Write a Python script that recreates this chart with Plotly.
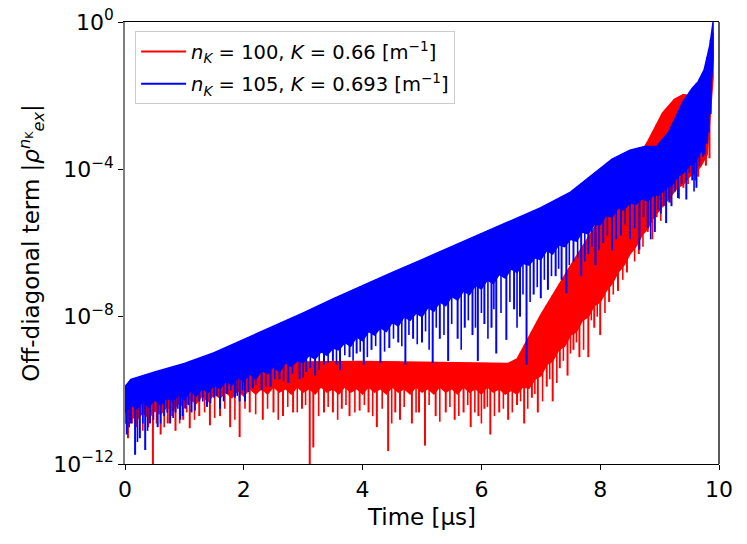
import numpy as np
import plotly.graph_objects as go

# ---------------- data (log10 of |rho|) ----------------
# n_K = 100 (red): upper envelope
red_top_t = [0.0, 0.1, 0.5, 1.0, 1.5, 2.0, 2.5, 3.0, 4.0, 5.0, 6.0, 6.45, 6.6, 7.0, 7.5, 7.8, 8.2, 8.5,
             8.8, 9.05, 9.25, 9.4, 9.5, 9.6, 9.7, 9.8, 9.85, 9.9]
red_top = [-10.5, -10.3, -10.0, -9.7, -9.4, -9.3, -9.25, -9.23, -9.22, -9.24, -9.25, -9.27, -9.15, -7.95,
           -6.62, -5.85, -4.85, -4.05, -3.25, -2.47, -2.1, -1.97, -2.0, -2.1, -1.7, -1.2, -0.8, -0.3]
# red: lower edge of the dense band (every 0.1 us)
red_low_t = [round(0.1 * i, 1) for i in range(100)]
red_low = [-10.9, -10.7, -10.8, -10.6, -10.75, -10.55, -10.65, -10.45, -10.55, -10.35,
           -10.45, -10.25, -10.35, -10.15, -10.3, -10.1, -10.2, -10.05, -10.2, -10.0,
           -10.15, -9.95, -10.1, -9.95, -10.1, -9.9, -10.05, -9.95, -10.1, -9.9,
           -10.05, -9.95, -10.1, -9.9, -10.05, -9.95, -10.1, -9.9, -10.05, -9.95,
           -10.1, -9.9, -10.05, -9.95, -10.1, -9.9, -10.05, -9.95, -10.1, -9.9,
           -10.05, -9.95, -10.1, -9.9, -10.05, -9.95, -10.1, -9.9, -10.05, -9.95,
           -10.1, -9.9, -10.05, -9.95, -10.1, -10.0, -10.1, -9.9, -9.95, -9.7,
           -9.6, -9.3, -9.2, -8.9, -8.8, -8.5, -8.4, -8.1, -8.0, -7.7,
           -7.6, -7.3, -7.1, -6.8, -6.6, -6.3, -6.1, -5.8, -5.6, -5.3,
           -5.1, -4.9, -4.7, -4.5, -4.4, -4.2, -4.1, -3.9, -3.6, -1.5]
# red: deep dips
red_spike_t = [0.05, 0.2, 0.39, 0.47, 0.6, 0.72, 0.85, 0.98, 1.09, 1.25, 1.43, 1.6, 1.77, 1.93, 2.1, 2.32,
               2.5, 2.66, 2.83, 2.98, 3.11, 3.17, 3.35, 3.5, 3.65, 3.78, 3.95, 4.1, 4.24, 4.43, 4.55, 4.63,
               4.83, 4.95, 5.05, 5.23, 5.4, 5.55, 5.7, 5.82, 5.95, 6.05, 6.15, 6.3, 6.45, 6.6, 6.72, 6.85,
               6.95, 7.1, 7.2, 7.32, 7.45, 7.55, 7.65, 7.8, 7.9, 8.0, 8.15, 8.3, 8.45, 8.5, 8.65, 8.8, 8.95,
               9.1, 9.25, 9.4, 9.55, 9.65, 9.72, 9.78, 9.84]
red_spike_lo = [-11.3, -11.0, -11.0, -12.1, -11.2, -10.9, -11.1, -10.8, -11.03, -10.7, -10.95, -10.7, -11.0,
                -11.27, -10.6, -10.8, -10.6, -10.7, -10.6, -10.5, -12.1, -11.55, -10.6, -10.6, -10.5, -10.7,
                -10.55, -10.6, -11.0, -11.65, -10.6, -10.8, -10.9, -10.6, -11.5, -10.7, -10.6, -10.8, -10.6,
                -11.0, -10.7, -10.5, -11.2, -10.6, -10.8, -10.4, -10.9, -10.2, -10.6, -9.9, -10.3, -9.4, -9.6,
                -8.9, -9.1, -9.1, -8.3, -8.5, -7.6, -7.3, -6.8, -6.2, -6.3, -5.7, -5.3, -5.0, -4.6, -4.5,
                -4.0, -4.2, -3.66, -3.9, -3.7]
# red: shallower dips
red_dip_t = [0.12, 0.3, 0.53, 0.66, 0.79, 0.92, 1.04, 1.17, 1.34, 1.51, 1.68, 1.85, 2.02, 2.2, 2.4, 2.58,
             2.74, 2.9, 3.04, 3.26, 3.42, 3.58, 3.72, 3.87, 4.03, 4.17, 4.33, 4.49, 4.7, 4.9, 5.12, 5.3,
             5.47, 5.62, 5.77, 5.89, 6.0, 6.1, 6.22, 6.37, 6.52, 6.66, 6.78, 6.9, 7.03, 7.15, 7.27, 7.38,
             7.5, 7.6, 7.72, 7.85, 7.95, 8.08, 8.22, 8.38, 8.58, 8.72, 8.88, 9.02, 9.18, 9.33, 9.48, 9.6]
red_dip_lo = [-10.9, -11.1, -10.9, -11.0, -10.7, -10.9, -10.6, -10.8, -10.6, -10.75, -10.5, -10.8, -10.5,
              -10.65, -10.5, -10.8, -10.45, -10.6, -10.4, -10.7, -10.45, -10.8, -10.4, -10.6, -10.4, -10.7,
              -10.5, -10.9, -10.45, -10.6, -10.4, -10.85, -10.45, -10.7, -10.4, -10.6, -10.9, -10.45,
              -10.7, -10.5, -10.6, -10.3, -10.5, -10.1, -10.3, -9.7, -9.8, -9.2, -9.0, -8.7, -8.9, -8.1,
              -8.0, -7.9, -7.4, -7.0, -6.5, -6.1, -5.9, -5.4, -4.9, -4.8, -4.4, -4.3]

# n_K = 105 (blue): upper envelope
blue_top_t = [0.0, 0.1, 0.5, 1.0, 1.5, 2.0, 2.5, 3.0, 3.5, 4.0, 4.5, 5.0, 5.5, 6.0, 6.5, 7.0, 7.5, 7.9,
              8.2, 8.5, 8.75, 8.95, 9.15, 9.4, 9.55, 9.65, 9.75, 9.85, 9.9]
blue_top = [-9.9, -9.7, -9.5, -9.27, -8.98, -8.62, -8.27, -7.9, -7.52, -7.15, -6.8, -6.45, -6.1, -5.75,
            -5.4, -5.04, -4.62, -4.1, -3.72, -3.48, -3.38, -3.38, -3.0, -2.15, -1.8, -1.62, -1.3, -0.6, 0.0]
# blue: lower edge of the dense band (every 0.1 us)
blue_low_t = [round(0.1 * i, 1) for i in range(100)]
blue_low = [-10.6, -10.4, -10.5, -10.3, -10.45, -10.25, -10.4, -10.2, -10.3, -10.1,
            -10.25, -10.0, -10.15, -9.95, -10.05, -9.85, -9.95, -9.75, -9.85, -9.65,
            -9.75, -9.55, -9.7, -9.45, -9.55, -9.35, -9.5, -9.25, -9.35, -9.2,
            -9.25, -9.05, -9.15, -8.95, -9.05, -8.85, -8.9, -8.7, -8.8, -8.55,
            -8.65, -8.4, -8.5, -8.3, -8.4, -8.15, -8.25, -8.0, -8.1, -7.9,
            -8.0, -7.75, -7.85, -7.6, -7.7, -7.45, -7.55, -7.3, -7.4, -7.15,
            -7.25, -7.0, -7.1, -6.85, -6.95, -6.7, -6.8, -6.55, -6.6, -6.4,
            -6.45, -6.2, -6.3, -6.05, -6.1, -5.9, -5.95, -5.7, -5.75, -5.5,
            -5.5, -5.25, -5.3, -5.05, -5.1, -4.9, -4.95, -4.8, -4.85, -4.7,
            -4.7, -4.5, -4.45, -4.2, -4.1, -3.9, -3.8, -3.5, -3.2, -1.0]
# blue: deep dips
blue_spike_t = [0.03, 0.1, 0.17, 0.25, 0.34, 0.42, 0.55, 0.66, 0.76, 0.85, 0.93, 1.02, 1.12, 1.25, 1.38,
                1.5, 1.6, 1.72, 1.85, 1.93, 2.02, 2.15, 2.3, 2.45, 2.6, 2.75, 2.94, 3.05, 3.2, 3.35, 3.5,
                3.62, 3.78, 3.9, 4.02, 4.15, 4.3, 4.45, 4.6, 4.72, 4.85, 5.0, 5.18, 5.3, 5.44, 5.6, 5.72,
                5.85, 5.94, 6.05, 6.17, 6.25, 6.42, 6.55, 6.65, 6.76, 6.88, 7.0, 7.12, 7.25, 7.35, 7.43,
                7.55, 7.68, 7.8, 7.92, 8.05, 8.2, 8.35, 8.5, 8.66, 8.8, 8.92, 9.02, 9.11, 9.2, 9.31, 9.45,
                9.55, 9.62, 9.73, 9.8, 9.86]
blue_spike_lo = [-11.2, -10.9, -11.75, -11.3, -11.62, -10.9, -11.0, -10.7, -10.9, -10.6, -10.8, -10.5,
                 -10.6, -10.3, -10.45, -10.2, -10.5, -10.1, -10.2, -10.3, -10.3, -9.95, -10.0, -9.9, -9.7,
                 -9.8, -9.7, -9.5, -9.6, -9.3, -9.2, -9.45, -9.1, -9.0, -9.3, -8.9, -9.26, -8.85, -8.7,
                 -9.3, -8.6, -8.7, -9.26, -8.6, -9.2, -8.6, -8.3, -8.5, -9.2, -8.2, -8.3, -9.0, -8.63, -7.8,
                 -8.0, -9.3, -7.4, -7.5, -7.27, -6.9, -7.0, -7.36, -6.5, -6.9, -6.3, -6.6, -6.0, -6.2, -5.8,
                 -5.9, -6.18, -5.6, -5.7, -5.2, -5.46, -5.0, -4.78, -4.82, -4.3, -4.5, -3.66, -3.3, -2.5]
# blue: shallower dips
blue_dip_t = [0.07, 0.21, 0.3, 0.38, 0.48, 0.6, 0.71, 0.81, 0.89, 0.97, 1.07, 1.18, 1.31, 1.44, 1.55, 1.66,
              1.78, 1.89, 1.98, 2.08, 2.2, 2.37, 2.52, 2.67, 2.82, 3.0, 3.12, 3.27, 3.42, 3.56, 3.7, 3.84,
              3.96, 4.08, 4.22, 4.37, 4.52, 4.66, 4.78, 4.92, 5.06, 5.12, 5.24, 5.37, 5.5, 5.66, 5.78, 5.9,
              6.0, 6.11, 6.21, 6.33, 6.48, 6.6, 6.7, 6.82, 6.94, 7.06, 7.18, 7.3, 7.48, 7.62, 7.74, 7.86,
              7.98, 8.12, 8.27, 8.42, 8.58, 8.73, 8.85, 8.97, 9.07, 9.16, 9.26, 9.37, 9.5, 9.58, 9.67,
              9.76, 9.83]
blue_dip_lo = [-11.0, -11.4, -10.9, -11.1, -10.8, -10.9, -10.6, -10.75, -10.5, -10.7, -10.4, -10.55, -10.3,
               -10.35, -10.15, -10.3, -10.0, -10.15, -10.0, -10.05, -9.85, -9.9, -9.7, -9.75, -9.55, -9.65,
               -9.4, -9.45, -9.25, -9.3, -9.05, -9.2, -8.95, -9.1, -8.8, -8.95, -8.6, -8.8, -8.5, -8.75,
               -8.4, -8.9, -8.3, -8.5, -8.2, -8.9, -8.1, -8.3, -7.9, -8.6, -7.8, -7.9, -7.6, -8.3, -7.4,
               -7.6, -7.2, -7.0, -6.9, -6.7, -6.6, -6.4, -6.5, -6.1, -6.2, -5.8, -5.9, -5.5, -5.6, -5.3,
               -5.9, -5.1, -5.0, -4.9, -4.6, -4.4, -4.1, -4.6, -3.9, -3.6, -3.0]


# ---------------- helpers ----------------
def band(t_top, top, t_low, low):
    x = list(t_top) + list(t_low)[::-1]
    y = [10.0 ** v for v in top] + [10.0 ** v for v in low][::-1]
    return x, y


def spikes(st, slo, t_top, top):
    hi = np.interp(st, t_top, top)
    xs, ys = [], []
    for t, lo, h in zip(st, slo, hi):
        xs += [t, t, None]
        ys += [10.0 ** lo, 10.0 ** h, None]
    return xs, ys


RED = "#ff0000"
BLUE = "#0000ff"

fig = go.Figure()

series = [
    ("<i>n</i><sub><i>K</i></sub> = 100, <i>K</i> = 0.66 [m<sup>−1</sup>]", RED,
     red_top_t, red_top, red_low_t, red_low, red_spike_t, red_spike_lo, red_dip_t, red_dip_lo),
    ("<i>n</i><sub><i>K</i></sub> = 105, <i>K</i> = 0.693 [m<sup>−1</sup>]", BLUE,
     blue_top_t, blue_top, blue_low_t, blue_low, blue_spike_t, blue_spike_lo, blue_dip_t, blue_dip_lo),
]

for name, col, tt, tp, tl, lw, st, sl, dt, dl in series:
    bx, by = band(tt, tp, tl, lw)
    fig.add_trace(go.Scatter(x=bx, y=by, mode="lines", fill="toself", fillcolor=col,
                             line=dict(color=col, width=1.5), showlegend=False, hoverinfo="skip"))
    sx, sy = spikes(dt, dl, tt, tp)
    fig.add_trace(go.Scatter(x=sx, y=sy, mode="lines", line=dict(color=col, width=1.6),
                             showlegend=False, hoverinfo="skip"))
    sx, sy = spikes(st, sl, tt, tp)
    fig.add_trace(go.Scatter(x=sx, y=sy, mode="lines", line=dict(color=col, width=2),
                             showlegend=False, hoverinfo="skip"))
    fig.add_trace(go.Scatter(x=[None], y=[None], mode="lines", line=dict(color=col, width=2),
                             name=name, legendgroup=name))

FONT = "DejaVu Sans, Arial, sans-serif"

fig.update_layout(
    width=747, height=544,
    margin=dict(l=125, r=28, t=22, b=80),
    paper_bgcolor="white", plot_bgcolor="white",
    font=dict(family=FONT, color="black", size=22),
    showlegend=True,
    legend=dict(x=0.017, y=0.979, xanchor="left", yanchor="top",
                bgcolor="rgba(255,255,255,0.85)", bordercolor="#cccccc", borderwidth=1,
                font=dict(size=19.5, family=FONT), tracegroupgap=4, traceorder="grouped",
                itemwidth=45),
    xaxis=dict(range=[0, 10], tickvals=[0, 2, 4, 6, 8, 10], ticks="outside", ticklen=5,
               tickcolor="black", showline=True, linecolor="black", linewidth=1.3, mirror=True,
               showgrid=False, zeroline=False, tickfont=dict(size=22), automargin=False,
               ticklabeloverflow="allow",
               title=dict(text="Time [μs]", font=dict(size=23), standoff=8)),
    yaxis=dict(type="log", range=[-12, 0], tickvals=[1, 1e-4, 1e-8, 1e-12],
               ticktext=["10<sup>0</sup>", "10<sup>−4</sup>", "10<sup>−8</sup>", "10<sup>−12</sup>"],
               ticks="outside", ticklen=5, tickcolor="black", showline=True, linecolor="#808080",
               linewidth=1.5, mirror=False, showgrid=False, zeroline=False, tickfont=dict(size=22),
               automargin=False, ticklabeloverflow="allow",
               title=dict(text="Off-diagonal term |<i>ρ</i><sup><i>n</i><sub>K</sub></sup><sub><i>ex</i></sub>|",
                          font=dict(size=23), standoff=7)),
    shapes=[dict(type="line", xref="paper", yref="paper", x0=1, x1=1, y0=0, y1=1,
                 line=dict(color="black", width=1.3))],
)

fig.write_html("out.html", config={"displayModeBar": False},
               post_script="document.body.style.margin='0';document.body.style.overflow='hidden';")
